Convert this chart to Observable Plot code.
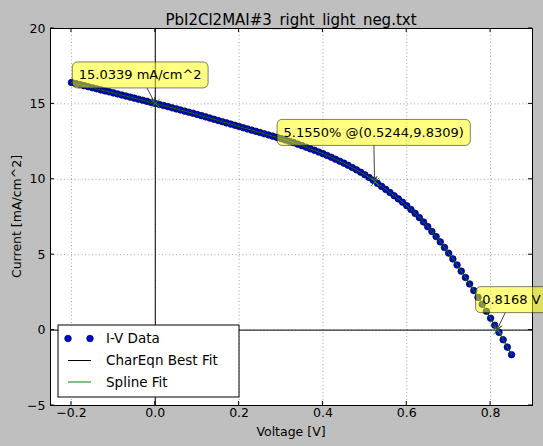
<!DOCTYPE html>
<html>
<head>
<meta charset="utf-8">
<script src="https://cdn.jsdelivr.net/npm/d3@7"></script>
<script src="https://cdn.jsdelivr.net/npm/@observablehq/plot@0.6"></script>
<style>
  html, body { margin: 0; padding: 0; background: #bfbfbf; }
  svg { display: block; }
</style>
</head>
<body>
<div id="chart"></div>
<script>
// ---- Data ----
const title = "PbI2Cl2MAI#3_right_light_neg.txt";
const xLabel = "Voltage [V]";
const yLabel = "Current [mA/cm^2]";

const voltage = [
  -0.20,-0.19,-0.18,-0.17,-0.16,-0.15,-0.14,-0.13,-0.12,-0.11,
  -0.10,-0.09,-0.08,-0.07,-0.06,-0.05,-0.04,-0.03,-0.02,-0.01,
   0.00, 0.01, 0.02, 0.03, 0.04, 0.05, 0.06, 0.07, 0.08, 0.09,
   0.10, 0.11, 0.12, 0.13, 0.14, 0.15, 0.16, 0.17, 0.18, 0.19,
   0.20, 0.21, 0.22, 0.23, 0.24, 0.25, 0.26, 0.27, 0.28, 0.29,
   0.30, 0.31, 0.32, 0.33, 0.34, 0.35, 0.36, 0.37, 0.38, 0.39,
   0.40, 0.41, 0.42, 0.43, 0.44, 0.45, 0.46, 0.47, 0.48, 0.49,
   0.50, 0.51, 0.52, 0.53, 0.54, 0.55, 0.56, 0.57, 0.58, 0.59,
   0.60, 0.61, 0.62, 0.63, 0.64, 0.65, 0.66, 0.67, 0.68, 0.69,
   0.70, 0.71, 0.72, 0.73, 0.74, 0.75, 0.76, 0.77, 0.78, 0.79,
   0.80, 0.81, 0.82, 0.83, 0.84, 0.85
];
const current = [
  16.42,16.35,16.28,16.21,16.14,16.07,16.00,15.93,15.86,15.80,
  15.73,15.66,15.59,15.52,15.45,15.38,15.31,15.24,15.17,15.10,
  15.03,14.96,14.89,14.82,14.74,14.67,14.60,14.52,14.45,14.38,
  14.30,14.22,14.14,14.06,13.98,13.90,13.82,13.74,13.66,13.58,
  13.50,13.42,13.34,13.26,13.18,13.10,13.02,12.94,12.86,12.78,
  12.70,12.61,12.52,12.43,12.33,12.23,12.13,12.02,11.92,11.81,
  11.70,11.58,11.46,11.33,11.20,11.07,10.93,10.78,10.63,10.47,
  10.30,10.12, 9.93, 9.73, 9.53, 9.33, 9.12, 8.91, 8.70, 8.48,
   8.25, 8.00, 7.74, 7.46, 7.17, 6.86, 6.54, 6.20, 5.85, 5.48,
   5.10, 4.72, 4.32, 3.91, 3.49, 3.06, 2.62, 2.17, 1.71, 1.25,
   0.79, 0.32,-0.15,-0.64,-1.13,-1.63
];

const xTicks = [-0.2, 0.0, 0.2, 0.4, 0.6, 0.8];
const yTicks = [-5, 0, 5, 10, 15, 20];

const annX = [0, 0.5244, 0.8168];
const annY = [15.0339, 9.8309, 0];
const annText = ["15.0339 mA/cm^2", "5.1550% @(0.5244,9.8309)", "0.8168 V"];
const annDx = [-76, -91, -15];
const annDy = [-28, -49, -30];

const legendLabels = ["I-V Data", "CharEqn Best Fit", "Spline Fit"];

(function () {
// ---- Build table ----
const iv = voltage.map((v, i) => ({v, j: current[i]}));
const ann = annX.map((v, i) => ({v, j: annY[i], text: annText[i], dx: annDx[i], dy: annDy[i]}));

const fmt = d => (d < 0 ? "\u2212" : "") + Math.abs(d).toFixed(1);
const fmtY = d => (d < 0 ? "\u2212" : "") + Math.abs(d);

const W = 543, H = 446;
const chart = Plot.plot({
  width: W,
  height: H,
  marginLeft: 50,
  marginRight: 11,
  marginTop: 28,
  marginBottom: 41,
  style: {background: "#bfbfbf", fontFamily: "DejaVu Sans", fontSize: "12.5px", color: "black", overflow: "visible"},
  x: {domain: [-0.25, 0.9]},
  y: {domain: [-5, 20]},
  marks: [
    Plot.frame({fill: "white"}),
    Plot.gridX(xTicks, {stroke: "#000", strokeOpacity: 0.45, strokeDasharray: "1,2.5", strokeWidth: 0.8}),
    Plot.gridY(yTicks, {stroke: "#000", strokeOpacity: 0.45, strokeDasharray: "1,2.5", strokeWidth: 0.8}),
    Plot.ruleX([0], {stroke: "black", strokeWidth: 1}),
    Plot.ruleY([0], {stroke: "black", strokeWidth: 1}),
    Plot.dot(iv, {x: "v", y: "j", r: 3.3, fill: "#0008d8", stroke: "#000030", strokeWidth: 0.7}),
    Plot.line(iv, {x: "v", y: "j", stroke: "black", strokeWidth: 1}),
    Plot.line(iv, {x: "v", y: "j", stroke: "#008000", strokeWidth: 1}),
    Plot.dot(ann, {x: "v", y: "j", symbol: "times", r: 4, stroke: "#20a020", strokeWidth: 1}),
    Plot.frame({stroke: "black", strokeWidth: 1}),
    Plot.axisX(xTicks, {tickSize: 0, tickPadding: 3, tickFormat: fmt, label: null}),
    Plot.axisY(yTicks, {tickSize: 0, tickPadding: 5, tickFormat: fmtY, label: null})
  ]
});

document.getElementById("chart").appendChild(chart);

// ---- Decorations using the chart's own scales ----
const sx = chart.scale("x"), sy = chart.scale("y");
const X = v => sx.apply(v), Y = v => sy.apply(v);
const svg = d3.select(chart);
const fl = X(-0.25), fr = X(0.9), ft = Y(20), fb = Y(-5);

// inward ticks on all four sides
const tg = svg.append("g").attr("stroke", "black").attr("stroke-width", 1);
xTicks.forEach(t => {
  tg.append("line").attr("x1", X(t)).attr("x2", X(t)).attr("y1", fb).attr("y2", fb - 4);
  tg.append("line").attr("x1", X(t)).attr("x2", X(t)).attr("y1", ft).attr("y2", ft + 4);
});
yTicks.forEach(t => {
  tg.append("line").attr("y1", Y(t)).attr("y2", Y(t)).attr("x1", fl).attr("x2", fl + 4);
  tg.append("line").attr("y1", Y(t)).attr("y2", Y(t)).attr("x1", fr).attr("x2", fr - 4);
});

// title and axis labels
svg.append("text").attr("x", (fl + fr) / 2).attr("y", 20).attr("text-anchor", "middle")
  .attr("dy", "0.35em").attr("font-size", 15).attr("fill", "black").text(title);
svg.append("text").attr("x", (fl + fr) / 2).attr("y", 432).attr("text-anchor", "middle")
  .attr("dy", "0.35em").attr("font-size", 12.5).attr("fill", "black").text(xLabel);
svg.append("text").attr("transform", `translate(17,${(ft + fb) / 2}) rotate(-90)`)
  .attr("text-anchor", "middle").attr("dy", "0.35em").attr("font-size", 12.5).attr("fill", "black").text(yLabel);

// annotations
const ag = svg.append("g");
ann.forEach(a => {
  const px = X(a.v), py = Y(a.j);
  const g = ag.append("g");
  const rect = g.append("rect");
  const txt = g.append("text").attr("x", px + a.dx).attr("y", py + a.dy).attr("dy", "0.35em")
    .attr("text-anchor", "start").attr("font-size", 13).attr("fill", "black").text(a.text);
  const bb = txt.node().getBBox();
  const pad = 6.5;
  const rx0 = bb.x - pad, ry0 = bb.y - pad + 1, rw = bb.width + 2 * pad, rh = bb.height + 2 * pad - 2;
  rect.attr("x", rx0).attr("y", ry0).attr("width", rw).attr("height", rh).attr("rx", 5)
    .attr("fill", "yellow").attr("fill-opacity", 0.5).attr("stroke", "black").attr("stroke-opacity", 0.5);
  const cx = rx0 + rw / 2, cy = ry0 + rh / 2;
  const ddx = px - cx, ddy = py - cy;
  let t = Infinity;
  if (ddy > 0) t = Math.min(t, (ry0 + rh - cy) / ddy);
  if (ddx > 0) t = Math.min(t, (rx0 + rw - cx) / ddx);
  if (ddx < 0) t = Math.min(t, (rx0 - cx) / ddx);
  const sx0 = cx + ddx * t, sy0 = cy + ddy * t;
  ag.append("line").attr("x1", sx0).attr("y1", sy0).attr("x2", px).attr("y2", py)
    .attr("stroke", "#444").attr("stroke-width", 1);
  const ang = Math.atan2(py - sy0, px - sx0);
  const hl = 6, hw = 0.45;
  const p1 = [px - hl * Math.cos(ang - hw), py - hl * Math.sin(ang - hw)];
  const p2 = [px - hl * Math.cos(ang + hw), py - hl * Math.sin(ang + hw)];
  ag.append("path").attr("d", `M${p1}L${px},${py}L${p2}`).attr("fill", "none")
    .attr("stroke", "#444").attr("stroke-width", 1);
});

// legend
const lg = svg.append("g");
const lx = 58, ly = 325, lw = 181, lh = 72;
lg.append("rect").attr("x", lx).attr("y", ly).attr("width", lw).attr("height", lh)
  .attr("fill", "white").attr("stroke", "black").attr("stroke-width", 1);
const rows = [338.5, 360.5, 382];
[68, 90].forEach(cx => lg.append("circle").attr("cx", cx).attr("cy", rows[0]).attr("r", 3.3)
  .attr("fill", "#0008d8").attr("stroke", "#000030").attr("stroke-width", 0.7));
lg.append("line").attr("x1", 68).attr("x2", 91).attr("y1", rows[1]).attr("y2", rows[1]).attr("stroke", "black");
lg.append("line").attr("x1", 68).attr("x2", 91).attr("y1", rows[2]).attr("y2", rows[2]).attr("stroke", "#008000");
legendLabels.forEach((l, i) => lg.append("text").attr("x", 106).attr("y", rows[i]).attr("dy", "0.35em")
  .attr("text-anchor", "start").attr("font-size", 13.5).attr("fill", "black").text(l));
})();
</script>
</body>
</html>
